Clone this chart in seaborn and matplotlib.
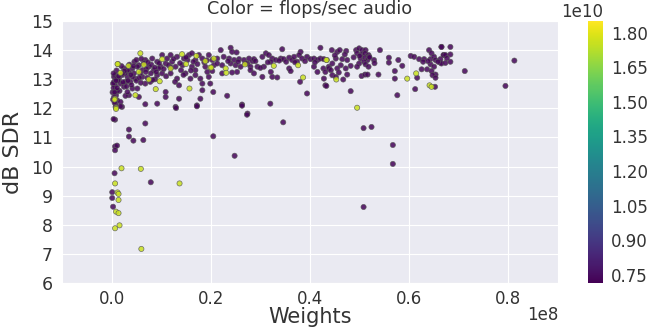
import numpy as np
import pandas as pd
import matplotlib
matplotlib.use("Agg")
import matplotlib.pyplot as plt
import seaborn as sns

# ---- data: weights (millions) and dB SDR, split by flops/sec class ----
low_flops_weights_m = [
    0.5, 0.7, 0.8, 0.9, 0.5, 1.1, 1.8, 2.1, 1.8, 2.5, 2.8, 1.5, 2.1, 3.2, 3.5, 4.2, 4.6, 5.0, 5.5, 3.8,
    4.8, 6.2, 6.8, 7.8, 8.5, 7.5, 6.8, 8.2, 9.2, 9.9, 10.9, 11.2, 12.2, 12.9, 13.2, 12.8, 14.0, 14.3, 15.3, 15.6,
    16.2, 16.9, 17.6, 18.3, 18.9, 19.3, 17.9, 18.3, 16.9, 15.9, 13.6, 10.9, 10.9, 13.6, 17.9, 17.2, 12.9, 9.2, 6.8, 5.5,
    3.5, 2.8, 4.2, 3.2, 5.2, 0.8, 19.6, 20.3, 20.6, 19.6, 14.9, 11.9, 10.2, 9.2, 9.5, 7.9, 6.2, 5.2, 4.2, 2.5,
    3.2, 10.2, 11.9, 13.2, 14.6, 16.2, 16.9, 19.9, 18.3, 0.8, 0.5,
    1.0, 1.3, 2.0, 2.7, 3.6, 4.0, 4.5, 5.8, 6.5, 7.2, 8.0, 8.8, 3.0, 1.6, 2.3, 5.0, 6.0, 7.0, 0.3, 0.4,
    0.2, 0.9, 1.2, 0.3, 0.6, 0.4,
    22.0, 24.0, 24.3, 25.2, 34.4, 38.1, 42.1, 21.3, 22.6, 23.7, 24.7, 25.7, 26.7, 27.7, 28.4, 28.7, 21.3, 22.3, 24.0, 25.0,
    26.0, 27.4, 28.0, 29.4, 30.4, 31.1, 31.7, 32.4, 30.7, 32.1, 33.1, 34.1, 34.7, 35.8, 36.4, 36.8, 37.4, 37.8, 38.4, 39.4,
    40.1, 40.8, 41.5, 42.1, 42.8, 40.8, 41.5, 42.7, 43.1, 43.8, 42.8, 43.1, 38.0, 20.3, 22.3, 24.3, 25.3, 28.0, 28.7, 30.0,
    30.4, 32.1, 32.4, 33.4, 35.8, 36.1, 20.5, 23.3, 26.3, 32.0, 27.4, 39.4,
    44.4, 45.5, 46.0, 47.3, 49.3, 49.9, 50.5, 51.2, 54.1, 49.5, 50.4, 51.1, 51.8, 50.2, 51.1, 51.6, 50.9, 51.9, 52.9, 49.9,
    51.2, 51.8, 48.2, 49.5, 46.5, 47.5, 45.2, 44.5, 46.2, 47.2, 43.8, 45.5, 44.2, 45.8, 44.5, 45.2, 47.5, 50.4, 51.1, 51.6,
    53.8, 46.7, 43.3, 48.2, 55.9, 55.9, 57.8, 58.6, 57.1, 57.1, 57.6, 60.3, 61.0, 62.0, 63.0, 64.0, 64.5, 64.3, 65.0, 65.3,
    66.5, 67.0, 66.3, 64.3, 65.0, 62.5, 63.6, 64.5, 65.3, 64.7, 61.6, 65.3, 65.2, 61.2,
    66.5, 68.3, 66.9, 67.3, 68.3, 66.3, 66.5, 67.3, 68.3, 71.2, 81.2, 79.4,
    0.8, 1.8, 13.0, 17.2, 26.3, 27.3, 34.6, 0.7, 3.5, 6.8, 3.5, 4.4, 6.4, 20.5, 0.7, 1.1, 0.7, 24.8,
    50.8, 52.4, 56.7, 56.7, 50.8,
    0.6, 7.9, 0.13, 0.13, 0.3, 0.4,
    # extra points densifying the main band
    1.4, 2.6, 3.9, 4.4, 5.6, 6.9, 7.3, 8.7, 9.6, 10.5, 11.5, 12.5, 13.8, 15.0, 16.5, 17.3, 18.7, 19.2, 8.3, 11.0,
    14.5, 16.0, 12.0, 9.0, 5.9, 3.3, 2.2, 1.1, 0.6, 0.9, 25.5, 27.0, 29.0, 31.5, 33.8, 35.2, 37.0, 39.0, 41.0, 23.5,
    45.0, 47.0, 48.8, 50.0, 52.0, 53.0, 62.8, 63.8, 65.8, 67.6,
]
low_flops_sdr = [
    12.91, 12.79, 12.62, 12.45, 12.39, 12.28, 12.22, 12.05, 12.85, 12.74, 12.91, 13.02, 13.14, 13.08, 13.25, 13.37, 13.60, 13.66, 13.48, 12.91,
    13.02, 13.08, 12.85, 12.91, 13.31, 13.43, 13.66, 13.71, 13.60, 13.43, 13.54, 13.71, 13.60, 13.43, 13.02, 12.91, 13.31, 13.48, 13.66, 13.83,
    13.43, 13.66, 13.83, 13.71, 13.43, 13.25, 13.02, 12.85, 13.14, 13.02, 12.79, 12.56, 12.39, 12.33, 12.33, 12.10, 12.05, 12.16, 12.14, 12.39,
    12.45, 12.43, 12.68, 12.56, 12.68, 12.14, 13.83, 13.66, 13.48, 13.08, 13.20, 13.20, 13.20, 13.14, 13.37, 13.20, 13.31, 13.43, 13.08, 13.37,
    13.31, 13.83, 13.83, 13.77, 13.71, 13.89, 13.31, 12.85, 12.62, 13.14, 13.08,
    13.30, 12.95, 13.45, 13.20, 13.50, 12.80, 13.20, 13.20, 13.55, 13.05, 13.50, 13.00, 12.75, 12.60, 12.90, 12.95, 13.70, 13.35, 12.85, 12.70,
    12.55, 13.00, 12.60, 12.30, 12.20, 13.20,
    14.00, 14.08, 13.94, 13.92, 14.03, 13.94, 14.08, 13.71, 13.77, 13.71, 13.66, 13.69, 13.66, 13.71, 13.62, 13.69, 13.54, 13.48, 13.54, 13.48,
    13.43, 13.54, 13.43, 13.43, 13.77, 13.89, 13.83, 13.71, 13.43, 13.60, 13.66, 13.71, 13.69, 13.74, 13.66, 13.77, 13.60, 13.83, 13.71, 13.77,
    13.69, 13.71, 13.66, 13.71, 13.69, 13.43, 13.25, 13.37, 13.25, 13.43, 13.02, 12.79, 12.91, 13.28, 13.20, 13.23, 13.25, 13.31, 13.20, 13.39,
    13.08, 13.25, 13.08, 13.06, 13.37, 13.28, 12.56, 12.43, 12.13, 12.16, 11.82, 12.51,
    14.00, 13.94, 14.00, 13.97, 14.00, 14.06, 14.00, 14.00, 14.00, 13.89, 13.85, 13.89, 13.83, 13.71, 13.74, 13.66, 13.60, 13.77, 13.66, 13.54,
    13.51, 13.43, 13.46, 13.43, 13.69, 13.66, 13.71, 13.54, 13.48, 13.37, 13.37, 13.37, 13.31, 13.23, 13.14, 13.08, 13.16, 13.11, 13.16, 13.16,
    13.16, 12.99, 12.77, 12.59, 13.74, 13.57, 13.66, 13.46, 13.28, 13.02, 12.45, 13.80, 13.77, 13.69, 13.69, 14.00, 13.89, 13.69, 13.77, 13.66,
    14.11, 13.83, 13.57, 13.51, 13.43, 13.34, 13.34, 13.28, 13.16, 13.14, 13.05, 13.05, 12.74, 12.66,
    14.11, 14.11, 13.83, 13.83, 13.85, 13.69, 13.54, 13.56, 13.60, 13.28, 13.64, 12.77,
    12.05, 12.07, 12.01, 12.07, 12.09, 11.78, 11.52, 11.61, 11.27, 11.48, 11.03, 10.89, 10.91, 11.04, 10.69, 10.72, 10.56, 10.37,
    11.32, 11.36, 10.74, 10.09, 8.61,
    9.77, 9.46, 9.12, 8.92, 8.62, 11.63,
    13.10, 13.28, 13.15, 13.45, 13.05, 13.25, 13.58, 13.40, 13.55, 13.35, 13.48, 13.70, 13.55, 13.75, 13.60, 13.52, 13.58, 13.65, 12.98, 13.10,
    13.15, 13.30, 13.40, 13.25, 12.88, 12.95, 13.20, 12.70, 12.55, 12.95, 13.60, 13.55, 13.62, 13.58, 13.64, 13.60, 13.58, 13.62, 13.58, 13.62,
    13.82, 13.85, 13.75, 13.80, 13.75, 13.55, 13.60, 13.62, 13.60, 13.72,
]
high_flops_weights_m = [
    5.8, 1.3, 3.4, 1.8, 14.2, 17.1, 18.9, 20.6, 10.2, 6.5, 7.5, 9.7, 8.9, 4.8, 15.7, 0.7, 0.9, 15.0, 19.9, 5.5, 11.9,
    1.2, 0.6,
    20.1, 23.0, 23.1, 26.9, 32.7, 37.6, 38.6, 43.4,
    43.3, 45.3, 59.6, 61.4, 64.1, 64.5, 49.5,
    0.9, 2.0, 5.9, 0.7, 13.7, 1.2, 1.4, 1.4, 0.9, 1.4, 1.6, 0.7, 6.0,
]
high_flops_sdr = [
    13.89, 13.52, 13.46, 13.22, 13.86, 13.80, 13.62, 13.71, 13.69, 13.50, 12.99, 12.93, 12.66, 12.45, 12.68, 12.33, 12.02, 13.52, 13.40, 13.25, 13.37,
    13.52, 12.30,
    13.40, 13.37, 13.22, 13.51, 13.46, 13.48, 13.06, 13.66,
    13.66, 12.99, 13.02, 13.20, 12.79, 12.74, 12.02,
    11.98, 9.94, 9.92, 9.42, 9.42, 9.11, 9.06, 8.85, 8.45, 8.40, 7.98, 7.88, 7.17,
]
low_flops_value = 0.73e10
high_flops_value = 1.76e10
flops_min, flops_max = 0.715e10, 1.85e10
cbar_ticks = [0.75e10, 0.90e10, 1.05e10, 1.20e10, 1.35e10, 1.50e10, 1.65e10, 1.80e10]
x_ticks = [0.0, 0.2e8, 0.4e8, 0.6e8, 0.8e8]

df = pd.DataFrame({
    "weights": [w * 1e6 for w in low_flops_weights_m + high_flops_weights_m],
    "sdr": low_flops_sdr + high_flops_sdr,
    "flops": [low_flops_value] * len(low_flops_weights_m) + [high_flops_value] * len(high_flops_weights_m),
})

sns.set_style("darkgrid")
plt.rcParams["font.family"] = ["DejaVu Sans"]
plt.rcParams["text.color"] = "#333333"
plt.rcParams["axes.labelcolor"] = "#333333"
plt.rcParams["xtick.color"] = "#333333"
plt.rcParams["ytick.color"] = "#333333"

fig = plt.figure(figsize=(6.51, 3.27), dpi=100)
ax = fig.add_axes([0.0952, 0.1346, 0.762, 0.8012])
cax = fig.add_axes([0.903, 0.1346, 0.023, 0.8012])

norm = matplotlib.colors.Normalize(vmin=flops_min, vmax=flops_max)
sns.scatterplot(data=df, x="weights", y="sdr", hue="flops", palette="viridis",
                hue_norm=norm, s=14, edgecolor="0.35", linewidth=0.5, alpha=0.85,
                legend=False, ax=ax)

ax.set_xlim(-0.1e8, 0.9e8)
ax.set_ylim(6, 15)
ax.set_yticks(range(6, 16))
ax.set_xticks(x_ticks)
ax.ticklabel_format(axis="x", style="sci", scilimits=(8, 8))
ax.xaxis.get_offset_text().set_visible(False)
ax.text(1.0, -0.088, "1e8", transform=ax.transAxes, ha="right", va="top", fontsize=12)
ax.tick_params(axis="x", labelsize=12, pad=1.5)
ax.tick_params(axis="y", labelsize=12.5, pad=3)
ax.set_xlabel("Weights", fontsize=15)
ax.xaxis.set_label_coords(0.5, -0.092)
ax.set_ylabel("dB SDR", fontsize=16, labelpad=6)
ax.set_title("Color = flops/sec audio", fontsize=12.7, pad=5)

sm = matplotlib.cm.ScalarMappable(norm=norm, cmap="viridis")
cb = fig.colorbar(sm, cax=cax)
cb.set_ticks(cbar_ticks)
cb.outline.set_visible(False)
cax.tick_params(labelsize=12, length=0, pad=6)
cax.yaxis.get_offset_text().set_fontsize(12)

fig.savefig("out.png", dpi=100)
